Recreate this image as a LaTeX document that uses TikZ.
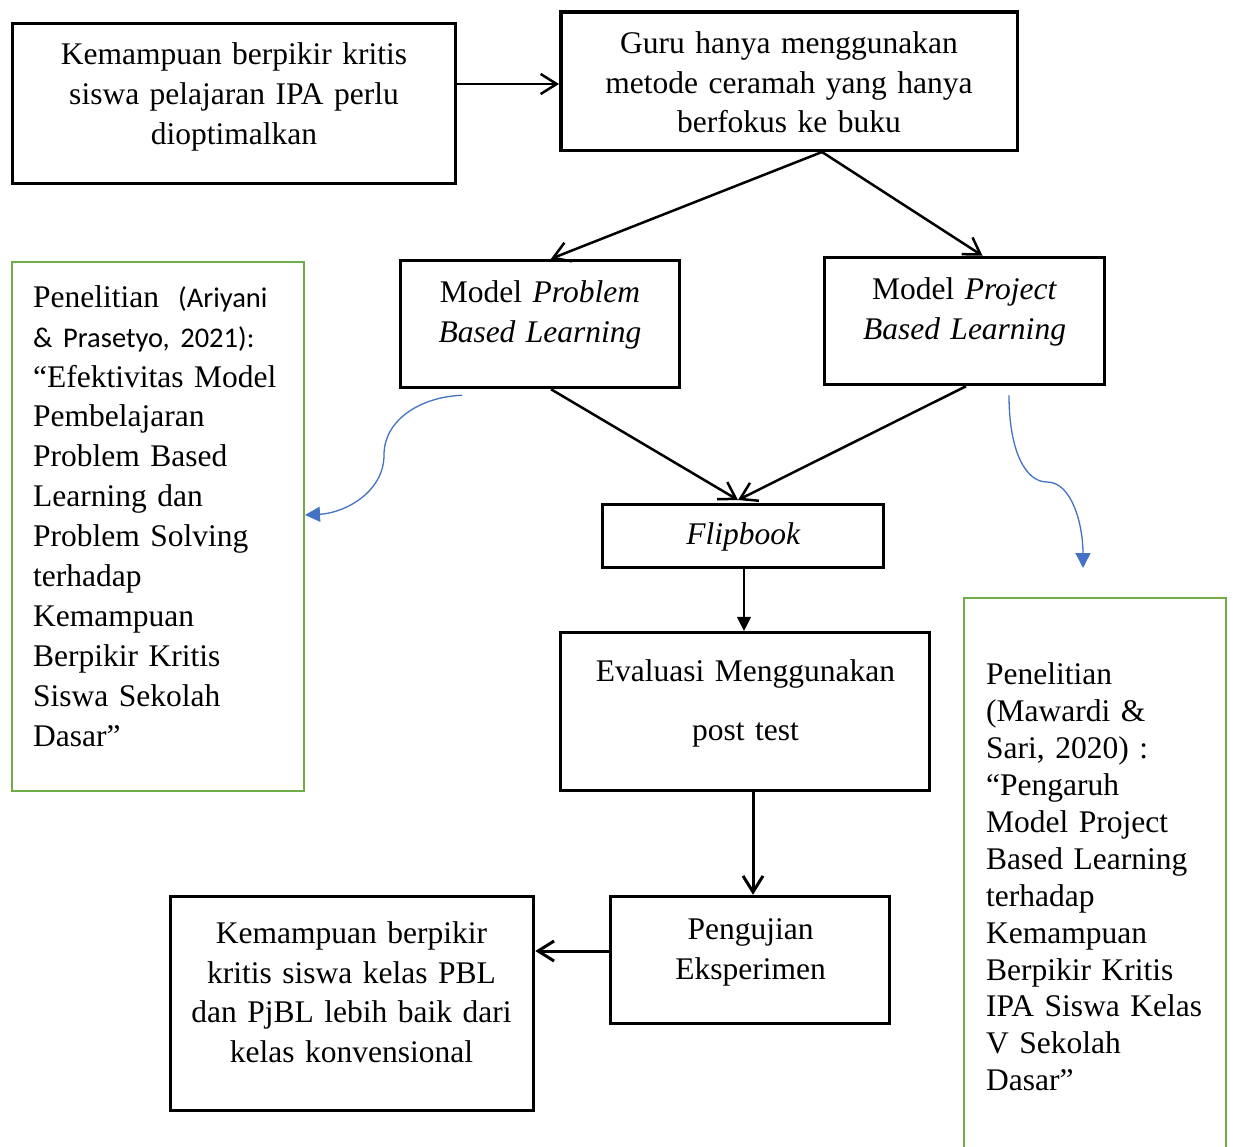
\documentclass[tikz,border=0pt]{standalone}
\usepackage{fontspec}
\setmainfont{Liberation Serif}
\newfontfamily\carlito{Carlito}
\usetikzlibrary{arrows.meta}
\definecolor{grn}{HTML}{70AD47}
\definecolor{blu}{HTML}{4472C4}
\begin{document}
\begin{tikzpicture}[x=1pt,y=-1pt,
  box/.style={draw, line width=3.5pt, rectangle, inner sep=0pt},
  gbox/.style={draw=grn, line width=2pt, rectangle, inner sep=0pt},
  txt/.style={inner sep=0pt, anchor=north, align=center, font=\fontsize{31.5}{39.6}\selectfont},
  ltxt/.style={inner sep=0pt, anchor=north west, align=left},
  openarr/.style={line width=2.5pt, -{Straight Barb[length=16pt,width=20pt]}},
  filledarr/.style={line width=1.3pt, -{Triangle[length=14pt,width=14pt]}},
  bluearr/.style={draw=blu, line width=1.3pt, -{Triangle[length=15pt,width=15pt]}, fill=none}
]
\useasboundingbox (0,0) rectangle (1234,1146);
\clip (0,0) rectangle (1234,1146);
\fill[white] (0,0) rectangle (1234,1146);

% boxes
\node[box, minimum width=443pt, minimum height=160pt] (a) at (234,103.5) {};
\node[box, minimum width=456.5pt, minimum height=138.5pt] (b) at (789,81) {};
\node[box, minimum width=279pt, minimum height=127pt] (c) at (540,324) {};
\node[box, minimum width=280pt, minimum height=127pt] (d) at (964.5,321) {};
\node[gbox, minimum width=292pt, minimum height=529pt] (gl) at (158,526.5) {};
\node[box, line width=3pt, minimum width=281pt, minimum height=63pt] (f) at (743,536) {};
\node[box, line width=3.2pt, minimum width=369pt, minimum height=158pt] (e) at (745,711.5) {};
\node[box, minimum width=279pt, minimum height=127pt] (p) at (750,960) {};
\node[box, minimum width=363pt, minimum height=214pt] (r) at (352,1003.5) {};
\node[gbox, minimum width=262pt, minimum height=553pt] (gr) at (1095,874.5) {};

% texts
\node[txt, text width=440pt] (at) at (234,42.8) {Kemampuan berpikir kritis\\siswa pelajaran IPA perlu\\dioptimalkan};
\node[txt, text width=450pt] (bt) at (789,31.5) {Guru hanya menggunakan\\metode ceramah yang hanya\\berfokus ke buku};
\node[txt, text width=275pt] (ct) at (540,280.5) {Model \textit{Problem}\\\textit{Based Learning}};
\node[txt, text width=275pt] (dt) at (964.5,277.5) {Model \textit{Project}\\\textit{Based Learning}};
\node[txt, text width=275pt] (ft) at (743.5,522.5) {\textit{Flipbook}};
\node[txt, text width=360pt] (et) at (745.5,659.5) {Evaluasi Menggunakan\\[19.4pt]post test};
\node[txt, text width=275pt] (pt) at (750.5,918.5) {Pengujian\\Eksperimen};
\node[txt, text width=360pt] (rt) at (351.5,921.5) {Kemampuan berpikir\\kritis siswa kelas PBL\\dan PjBL lebih baik dari\\kelas konvensional};
\node[ltxt, text width=280pt, font=\fontsize{31.5}{39.9}\selectfont] (glt) at (33,285.2) {Penelitian\hspace*{19pt}{\carlito\fontsize{28.5}{39.9}\selectfont(Ariyani}\\{\carlito\fontsize{28.5}{39.9}\selectfont\& Prasetyo, 2021):}\\“Efektivitas Model\\Pembelajaran\\Problem Based\\Learning dan\\Problem Solving\\terhadap\\Kemampuan\\Berpikir Kritis\\Siswa Sekolah\\Dasar”};
\node[ltxt, text width=245pt, font=\fontsize{31.5}{36.9}\selectfont] (grt) at (986,662.8) {Penelitian\\(Mawardi \&\\Sari, 2020) :\\“Pengaruh\\Model Project\\Based Learning\\terhadap\\Kemampuan\\Berpikir Kritis\\IPA Siswa Kelas\\V Sekolah\\Dasar”};

% connectors
\draw[openarr] (a.east |- 0,84) -- (b.west |- 0,84);
\draw[openarr] ([xshift=33pt]b.south) -- ([xshift=11pt]c.north);
\draw[openarr] ([xshift=33pt]b.south) -- ([xshift=18pt]d.north);
\coordinate (fin) at (738,500);
\draw[openarr] ([xshift=11pt]c.south) -- (fin);
\draw[openarr] ([xshift=1.5pt]d.south) -- (fin);
\draw[filledarr] ([xshift=1pt]f.south) -- ([xshift=-1pt]e.north);
\draw[openarr, line width=3pt] ([xshift=8pt]e.south) -- ([xshift=3pt]p.north);
\draw[openarr, line width=3pt] ([yshift=9pt]p.west) -- ([yshift=52.5pt]r.east);

% blue curved arrows
\draw[bluearr] ([xshift=-78pt,yshift=-6pt]c.south) .. controls (420,397) and (384,420) .. (384,455) .. controls (384,492) and (345,513) .. ([yshift=11.5pt]gl.east);
\draw[bluearr] ([xshift=44.5pt,yshift=-9pt]d.south) .. controls (1009,450) and (1025,482) .. (1047,482) .. controls (1072,482) and (1083,525) .. ([xshift=-12pt,yshift=29pt]gr.north);
\end{tikzpicture}
\end{document}
